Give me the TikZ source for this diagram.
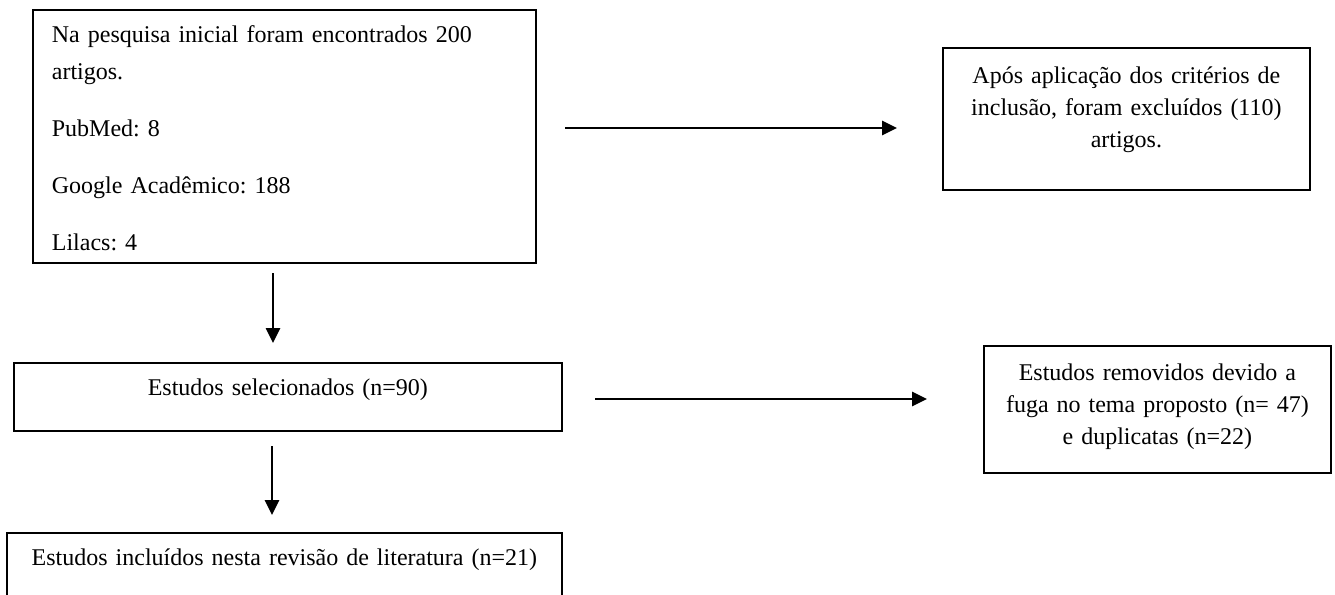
\documentclass[tikz,border=0pt]{standalone}
\usepackage{fontspec}
\setmainfont{Liberation Serif}
\usetikzlibrary{arrows.meta}
\frenchspacing
\begin{document}
\begin{tikzpicture}[x=1pt,y=-1pt,
  box/.style={draw=black, line width=1.8pt, inner ysep=0pt, anchor=north west,
    font=\fontsize{24}{32}\selectfont\frenchspacing},
  arr/.style={line width=2.6pt, -{Triangle[length=15pt,width=14pt]}}]
\useasboundingbox (0,0) rectangle (1335,594);
\fill[white] (0,0) rectangle (1335,594);
\clip (0,0) rectangle (1335,594);
% boxes
\node[box, inner xsep=19pt, text width=465pt, align=left,
  text height=33pt, text depth=220pt,
  font=\fontsize{24}{37}\selectfont\frenchspacing] (b1) at (32,9)
  {Na pesquisa inicial foram encontrados 200 artigos.\\[20pt]
   PubMed: 8\\[20pt]
   Google Acadêmico: 188\\[20pt]
   Lilacs: 4};
\node[box, inner xsep=0pt, text width=367pt, align=center,
  text height=36pt, text depth=106pt] (b2) at (942,47)
  {Após aplicação dos critérios de\\
   inclusão, foram excluídos (110)\\
   artigos.};
\node[box, inner xsep=0pt, text width=548pt, align=center,
  text height=33pt, text depth=35pt] (b3) at (13,362)
  {Estudos selecionados (n=90)};
\node[box, inner xsep=0pt, text width=347pt, align=center,
  text height=35pt, text depth=92pt] (b4) at (983,345)
  {Estudos removidos devido a\\
   fuga no tema proposto (n= 47)\\
   e duplicatas (n=22)};
\node[box, inner xsep=0pt, text width=555pt, align=center,
  text height=33pt, text depth=55pt] (b5) at (6,532)
  {Estudos incluídos nesta revisão de literatura (n=21)};
% connector end points
\coordinate (a1s) at (565,128);
\coordinate (a1e) at (897,128);
\coordinate (a2s) at (595,399);
\coordinate (a2e) at (927,399);
\coordinate (d1s) at (273,273);
\coordinate (d1e) at (273,343);
\coordinate (d2s) at (272,446);
\coordinate (d2e) at (272,515);
\draw[arr] (a1s) -- (a1e);
\draw[arr] (a2s) -- (a2e);
\draw[arr] (d1s) -- (d1e);
\draw[arr] (d2s) -- (d2e);
\end{tikzpicture}
\end{document}
